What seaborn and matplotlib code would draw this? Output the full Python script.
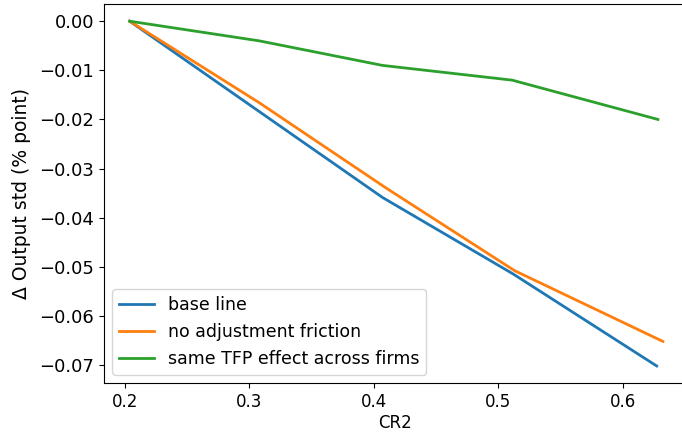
import matplotlib
matplotlib.use("Agg")
import matplotlib.pyplot as plt
import seaborn as sns
import pandas as pd

# values
cr2_base = [0.204, 0.308, 0.407, 0.512, 0.627]
std_base = [0.0, -0.0184, -0.0359, -0.0515, -0.0702]

cr2_nofric = [0.204, 0.308, 0.410, 0.513, 0.632]
std_nofric = [0.0, -0.0166, -0.0340, -0.0508, -0.0652]

cr2_sametfp = [0.204, 0.308, 0.407, 0.511, 0.628]
std_sametfp = [0.0, -0.0040, -0.0090, -0.0120, -0.0200]

labels = ['base line', 'no adjustment friction', 'same TFP effect across firms']

df = pd.concat([
    pd.DataFrame({'CR2': cr2_base, 'dstd': std_base, 'case': labels[0]}),
    pd.DataFrame({'CR2': cr2_nofric, 'dstd': std_nofric, 'case': labels[1]}),
    pd.DataFrame({'CR2': cr2_sametfp, 'dstd': std_sametfp, 'case': labels[2]}),
], ignore_index=True)

plt.rcParams['font.size'] = 12

fig, ax = plt.subplots(figsize=(6.82, 4.42), dpi=100)
sns.lineplot(data=df, x='CR2', y='dstd', hue='case', hue_order=labels,
             palette=['#1f77b4', '#ff7f0e', '#2ca02c'], sort=False,
             linewidth=2, ax=ax)
ax.set_xlabel('CR2', labelpad=2)
ax.set_ylabel('Δ Output std (% point)', fontsize=13.5, labelpad=6)
ax.set_xticks([0.2, 0.3, 0.4, 0.5, 0.6])
ax.set_yticks([0.0, -0.01, -0.02, -0.03, -0.04, -0.05, -0.06, -0.07])
ax.tick_params(axis='y', labelsize=13)
ax.set_xlim(0.1831, 0.6506)
ax.legend(loc='lower left', title=None, fontsize=12.5)
plt.subplots_adjust(left=0.152, right=1.006, top=0.991, bottom=0.133)
plt.savefig('out.png', dpi=100)
plt.close()
